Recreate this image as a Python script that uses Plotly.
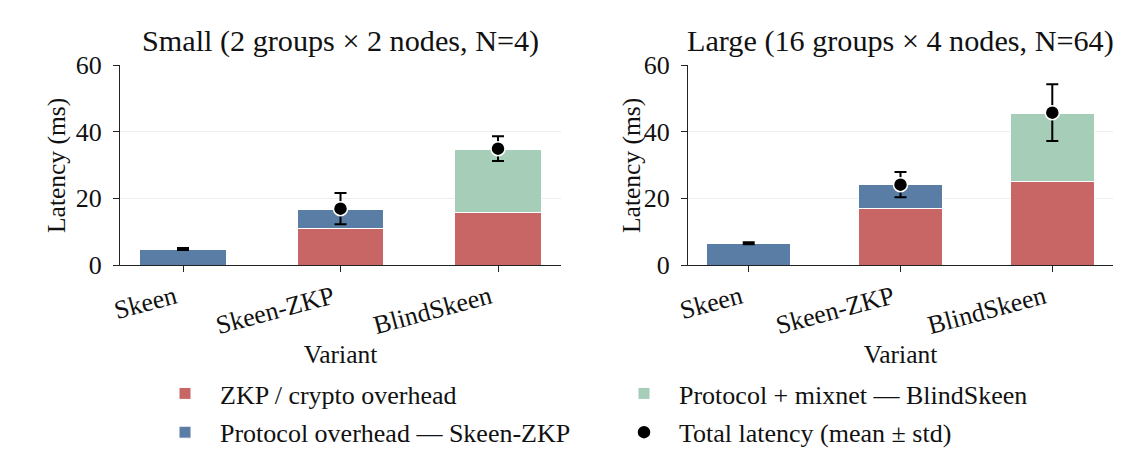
import plotly.graph_objects as go

# ---------------- data ----------------
variants = ["Skeen", "Skeen-ZKP", "BlindSkeen"]

# Small (2 groups x 2 nodes, N=4)
small_skeen = 4.8
small_skeen_std = 0.3
small_zkp = [10.9, 15.7]          # Skeen-ZKP, BlindSkeen
small_proto = 5.9                 # Skeen-ZKP protocol overhead
small_mixnet = 19.1               # BlindSkeen protocol + mixnet
small_total_mean = [16.9, 34.9]   # Skeen-ZKP, BlindSkeen
small_total_std = [4.7, 3.7]

# Large (16 groups x 4 nodes, N=64)
large_skeen = 6.5
large_skeen_std = 0.3
large_zkp = [16.9, 25.1]
large_proto = 7.2
large_mixnet = 20.4
large_total_mean = [24.1, 45.7]
large_total_std = [3.8, 8.5]

titles = ["Small (2 groups × 2 nodes, N=4)", "Large (16 groups × 4 nodes, N=64)"]
y_title = "Latency (ms)"
x_title = "Variant"

RED = "#C86666"
BLUE = "#5A7DA6"
GREEN = "#A5CDB8"
FONT = "Liberation Serif"

# page body has an 8px margin, so the figure is drawn offset by 8px
OFF = 8
W, H = 1146 - 2 * OFF, 460 - 2 * OFF
# plot area in screen pixels
SX0, SX1, SY0, SY1 = 120, 1113, 65, 265
ML, MR, MT, MB = SX0 - OFF, (1146 - OFF) - SX1, SY0 - OFF, (460 - OFF) - SY1
PW, PH = W - ML - MR, H - MT - MB

def px_x(p):
    return (p - SX0) / PW

def px_y(p):
    return (SY1 - p) / PH

def cx(p):
    return (p - OFF) / W

def cy(p):
    return 1 - (p - OFF) / H

fig = go.Figure()

panels = [
    (small_skeen, small_skeen_std, small_zkp, small_proto, small_mixnet, small_total_mean, small_total_std),
    (large_skeen, large_skeen_std, large_zkp, large_proto, large_mixnet, large_total_mean, large_total_std),
]

for i, (sk, sk_std, zkp, proto, mix, tmean, tstd) in enumerate(panels):
    xa = "x" if i == 0 else "x2"
    ya = "y" if i == 0 else "y2"
    show = i == 0
    fig.add_trace(go.Bar(
        x=variants[1:], y=zkp, name="ZKP / crypto overhead",
        marker=dict(color=RED, line=dict(color="white", width=1)),
        width=0.55, xaxis=xa, yaxis=ya, legendgroup="zkp", showlegend=show, legend="legend",
    ))
    fig.add_trace(go.Bar(
        x=variants[:2], y=[sk, proto], name="Protocol overhead — Skeen-ZKP",
        marker=dict(color=BLUE, line=dict(color="white", width=1)),
        width=0.55, xaxis=xa, yaxis=ya, legendgroup="proto", showlegend=show, legend="legend",
    ))
    fig.add_trace(go.Bar(
        x=variants[2:], y=[mix], name="Protocol + mixnet — BlindSkeen",
        marker=dict(color=GREEN, line=dict(color="white", width=1)),
        width=0.55, xaxis=xa, yaxis=ya, legendgroup="mix", showlegend=show, legend="legend2",
    ))
    # Skeen error bar (no marker)
    fig.add_trace(go.Scatter(
        x=variants[:1], y=[sk], mode="markers",
        marker=dict(size=1, opacity=0, color="black"),
        error_y=dict(type="data", array=[sk_std], color="black", thickness=2, width=6),
        xaxis=xa, yaxis=ya, showlegend=False, hoverinfo="skip",
    ))
    fig.add_trace(go.Scatter(
        x=variants[1:], y=tmean, mode="markers", name="Total latency (mean ± std)",
        marker=dict(size=14, color="black", line=dict(color="white", width=1.5)),
        error_y=dict(type="data", array=tstd, color="black", thickness=2, width=6),
        xaxis=xa, yaxis=ya, legendgroup="total", showlegend=show, legend="legend2",
    ))

axis_common = dict(
    showline=True, linecolor="#222", linewidth=1.3,
    ticks="outside", ticklen=6, tickwidth=1.3, tickcolor="#222",
    tickfont=dict(family=FONT, size=26, color="#111"),
    mirror=False, zeroline=False, automargin=True,
)

x_domains = [[px_x(120), px_x(561)], [px_x(688), px_x(1113)]]
y_title_x = [56, 631]

for i in range(2):
    sfx = "" if i == 0 else "2"
    fig.layout["xaxis" + sfx] = dict(
        axis_common, domain=x_domains[i], anchor="y" + sfx,
        type="category", categoryorder="array", categoryarray=variants,
        range=[-0.4, 2.4], tickangle=-15, showgrid=False, ticklabelshift=-8,
        title=dict(text=x_title, font=dict(family=FONT, size=25.5, color="#111"), standoff=5),
    )
    fig.layout["yaxis" + sfx] = dict(
        axis_common, domain=[0, 1], anchor="x" + sfx,
        range=[0, 60], dtick=20, showgrid=True, gridcolor="#EEEEEE", gridwidth=1,
        ticklabelstandoff=6,
    )
    xc = (x_domains[i][0] + x_domains[i][1]) / 2
    fig.add_annotation(
        text=titles[i], x=xc, y=px_y(41), xref="paper", yref="paper",
        xanchor="center", yanchor="middle", showarrow=False,
        font=dict(family=FONT, size=30.2, color="#111"),
    )
    fig.add_annotation(
        text=y_title, x=px_x(y_title_x[i]), y=px_y(166), xref="paper", yref="paper",
        xanchor="center", yanchor="middle", showarrow=False, textangle=-90,
        font=dict(family=FONT, size=25.5, color="#111"),
    )

legend_common = dict(
    orientation="v", yanchor="top", xanchor="left",
    xref="container", yref="container",
    font=dict(family=FONT, size=26, color="#111"),
    bgcolor="rgba(0,0,0,0)", traceorder="grouped", tracegroupgap=2, itemwidth=60,
)

fig.update_layout(
    width=W, height=H,
    margin=dict(l=ML, r=MR, t=MT, b=MB, autoexpand=False),
    paper_bgcolor="white", plot_bgcolor="white",
    barmode="stack", bargap=0.45,
    legend=dict(legend_common, x=cx(221 - 71), y=cy(370)),
    legend2=dict(legend_common, x=cx(680 - 71), y=cy(370)),
    font=dict(family=FONT),
)

fig.write_html("out.html")
